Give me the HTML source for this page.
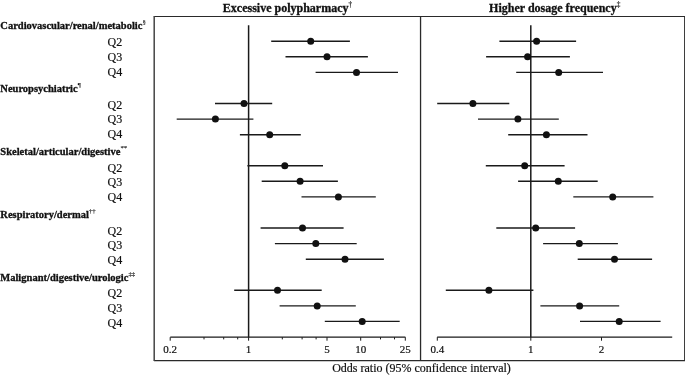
<!DOCTYPE html>
<html><head><meta charset="utf-8"><style>
html,body{margin:0;padding:0;background:#fff;width:685px;height:375px;overflow:hidden;position:relative;font-family:"Liberation Serif",serif}
</style></head><body>
<div id="wrap" style="position:absolute;left:0;top:0;width:685px;height:375px;will-change:transform">
<svg width="685" height="375" viewBox="0 0 685 375" style="position:absolute;left:0;top:0">
<rect width="685" height="375" fill="#fff"/><g>
<line x1="153.9" y1="16.5" x2="685" y2="16.5" stroke="#2a2a2a" stroke-width="1.15"/>
<line x1="153.9" y1="360.7" x2="685" y2="360.7" stroke="#2a2a2a" stroke-width="1.2"/>
<line x1="154.2" y1="16" x2="154.2" y2="361" stroke="#444" stroke-width="1.5"/>
<line x1="684.7" y1="16" x2="684.7" y2="361" stroke="#2a2a2a" stroke-width="1.2"/>
<line x1="420.55" y1="16" x2="420.55" y2="361" stroke="#2a2a2a" stroke-width="1.3"/>
<text x="287.5" y="11.5" text-anchor="middle" font-family="Liberation Serif" font-weight="bold" font-size="12" fill="#111" stroke="#111" stroke-width="0.3">Excessive polypharmacy<tspan font-size="7.2" font-weight="normal" stroke-width="0.15" dy="-4.9">†</tspan></text>
<text x="554.7" y="11.5" text-anchor="middle" font-family="Liberation Serif" font-weight="bold" font-size="12" fill="#111" stroke="#111" stroke-width="0.3">Higher dosage frequency<tspan font-size="7.2" font-weight="normal" stroke-width="0.15" dy="-4.9">‡</tspan></text>
<text x="0.3" y="29.3" font-family="Liberation Serif" font-weight="bold" font-size="10.5" fill="#111" stroke="#111" stroke-width="0.3">Cardiovascular/renal/metabolic<tspan font-size="6.8" font-weight="normal" stroke-width="0.1" dy="-5.2">§</tspan></text>
<text x="122.2" y="45.6" text-anchor="end" font-family="Liberation Serif" font-size="12" fill="#111" stroke="#111" stroke-width="0.2">Q2</text>
<text x="122.2" y="60.5" text-anchor="end" font-family="Liberation Serif" font-size="12" fill="#111" stroke="#111" stroke-width="0.2">Q3</text>
<text x="122.2" y="75.5" text-anchor="end" font-family="Liberation Serif" font-size="12" fill="#111" stroke="#111" stroke-width="0.2">Q4</text>
<text x="0.3" y="92.2" font-family="Liberation Serif" font-weight="bold" font-size="10.5" fill="#111" stroke="#111" stroke-width="0.3">Neuropsychiatric<tspan font-size="6.8" font-weight="normal" stroke-width="0.1" dy="-5.2">¶</tspan></text>
<text x="122.2" y="108.6" text-anchor="end" font-family="Liberation Serif" font-size="12" fill="#111" stroke="#111" stroke-width="0.2">Q2</text>
<text x="122.2" y="123.4" text-anchor="end" font-family="Liberation Serif" font-size="12" fill="#111" stroke="#111" stroke-width="0.2">Q3</text>
<text x="122.2" y="138.4" text-anchor="end" font-family="Liberation Serif" font-size="12" fill="#111" stroke="#111" stroke-width="0.2">Q4</text>
<text x="0.3" y="155.1" font-family="Liberation Serif" font-weight="bold" font-size="10.5" fill="#111" stroke="#111" stroke-width="0.3">Skeletal/articular/digestive<tspan font-size="6.8" font-weight="normal" stroke-width="0.1" dy="-5.2">**</tspan></text>
<text x="122.2" y="171.5" text-anchor="end" font-family="Liberation Serif" font-size="12" fill="#111" stroke="#111" stroke-width="0.2">Q2</text>
<text x="122.2" y="186.4" text-anchor="end" font-family="Liberation Serif" font-size="12" fill="#111" stroke="#111" stroke-width="0.2">Q3</text>
<text x="122.2" y="201.4" text-anchor="end" font-family="Liberation Serif" font-size="12" fill="#111" stroke="#111" stroke-width="0.2">Q4</text>
<text x="0.3" y="218.0" font-family="Liberation Serif" font-weight="bold" font-size="10.5" fill="#111" stroke="#111" stroke-width="0.3">Respiratory/dermal<tspan font-size="6.8" font-weight="normal" stroke-width="0.1" dy="-5.2">††</tspan></text>
<text x="122.2" y="234.5" text-anchor="end" font-family="Liberation Serif" font-size="12" fill="#111" stroke="#111" stroke-width="0.2">Q2</text>
<text x="122.2" y="249.3" text-anchor="end" font-family="Liberation Serif" font-size="12" fill="#111" stroke="#111" stroke-width="0.2">Q3</text>
<text x="122.2" y="264.3" text-anchor="end" font-family="Liberation Serif" font-size="12" fill="#111" stroke="#111" stroke-width="0.2">Q4</text>
<text x="0.3" y="280.9" font-family="Liberation Serif" font-weight="bold" font-size="10.5" fill="#111" stroke="#111" stroke-width="0.3">Malignant/digestive/urologic<tspan font-size="6.8" font-weight="normal" stroke-width="0.1" dy="-5.2">‡‡</tspan></text>
<text x="122.2" y="297.4" text-anchor="end" font-family="Liberation Serif" font-size="12" fill="#111" stroke="#111" stroke-width="0.2">Q2</text>
<text x="122.2" y="312.2" text-anchor="end" font-family="Liberation Serif" font-size="12" fill="#111" stroke="#111" stroke-width="0.2">Q3</text>
<text x="122.2" y="327.2" text-anchor="end" font-family="Liberation Serif" font-size="12" fill="#111" stroke="#111" stroke-width="0.2">Q4</text>
<line x1="248.6" y1="25.3" x2="248.6" y2="337.2" stroke="#1a1a1a" stroke-width="1.5"/>
<line x1="530.8" y1="25.3" x2="530.8" y2="337.2" stroke="#1a1a1a" stroke-width="1.5"/>
<line x1="170.3" y1="337.2" x2="405.4" y2="337.2" stroke="#1a1a1a" stroke-width="1.3"/>
<line x1="170.2" y1="337.2" x2="170.2" y2="340.7" stroke="#1a1a1a" stroke-width="1"/>
<line x1="204.0" y1="337.2" x2="204.0" y2="339.4" stroke="#1a1a1a" stroke-width="1"/>
<line x1="223.7" y1="337.2" x2="223.7" y2="339.4" stroke="#1a1a1a" stroke-width="1"/>
<line x1="237.7" y1="337.2" x2="237.7" y2="339.4" stroke="#1a1a1a" stroke-width="1"/>
<line x1="248.6" y1="337.2" x2="248.6" y2="340.7" stroke="#1a1a1a" stroke-width="1"/>
<line x1="282.3" y1="337.2" x2="282.3" y2="339.4" stroke="#1a1a1a" stroke-width="1"/>
<line x1="302.1" y1="337.2" x2="302.1" y2="339.4" stroke="#1a1a1a" stroke-width="1"/>
<line x1="316.1" y1="337.2" x2="316.1" y2="339.4" stroke="#1a1a1a" stroke-width="1"/>
<line x1="327.0" y1="337.2" x2="327.0" y2="340.7" stroke="#1a1a1a" stroke-width="1"/>
<line x1="360.7" y1="337.2" x2="360.7" y2="340.7" stroke="#1a1a1a" stroke-width="1"/>
<line x1="380.5" y1="337.2" x2="380.5" y2="339.4" stroke="#1a1a1a" stroke-width="1"/>
<line x1="394.5" y1="337.2" x2="394.5" y2="339.4" stroke="#1a1a1a" stroke-width="1"/>
<line x1="405.3" y1="337.2" x2="405.3" y2="340.7" stroke="#1a1a1a" stroke-width="1"/>
<line x1="437.2" y1="337.2" x2="672.2" y2="337.2" stroke="#1a1a1a" stroke-width="1.3"/>
<line x1="437.3" y1="337.2" x2="437.3" y2="340.7" stroke="#1a1a1a" stroke-width="1"/>
<line x1="530.8" y1="337.2" x2="530.8" y2="340.7" stroke="#1a1a1a" stroke-width="1"/>
<line x1="601.5" y1="337.2" x2="601.5" y2="340.7" stroke="#1a1a1a" stroke-width="1"/>
<text x="170.2" y="353.1" text-anchor="middle" font-family="Liberation Serif" font-size="11" fill="#111" stroke="#111" stroke-width="0.2">0.2</text>
<text x="248.6" y="353.1" text-anchor="middle" font-family="Liberation Serif" font-size="11" fill="#111" stroke="#111" stroke-width="0.2">1</text>
<text x="327.0" y="353.1" text-anchor="middle" font-family="Liberation Serif" font-size="11" fill="#111" stroke="#111" stroke-width="0.2">5</text>
<text x="360.7" y="353.1" text-anchor="middle" font-family="Liberation Serif" font-size="11" fill="#111" stroke="#111" stroke-width="0.2">10</text>
<text x="405.3" y="353.1" text-anchor="middle" font-family="Liberation Serif" font-size="11" fill="#111" stroke="#111" stroke-width="0.2">25</text>
<text x="437.3" y="353.1" text-anchor="middle" font-family="Liberation Serif" font-size="11" fill="#111" stroke="#111" stroke-width="0.2">0.4</text>
<text x="530.8" y="353.1" text-anchor="middle" font-family="Liberation Serif" font-size="11" fill="#111" stroke="#111" stroke-width="0.2">1</text>
<text x="601.5" y="353.1" text-anchor="middle" font-family="Liberation Serif" font-size="11" fill="#111" stroke="#111" stroke-width="0.2">2</text>
<text x="421.5" y="372.2" text-anchor="middle" font-family="Liberation Serif" font-size="12" fill="#111" stroke="#111" stroke-width="0.2">Odds ratio (95% confidence interval)</text>
<line x1="271.2" y1="41.3" x2="349.9" y2="41.3" stroke="#1a1a1a" stroke-width="1.4"/>
<circle cx="310.7" cy="41.3" r="3.5" fill="#111"/>
<line x1="285.5" y1="56.8" x2="367.9" y2="56.8" stroke="#1a1a1a" stroke-width="1.4"/>
<circle cx="327.0" cy="56.8" r="3.5" fill="#111"/>
<line x1="315.6" y1="72.4" x2="398.0" y2="72.4" stroke="#1a1a1a" stroke-width="1.4"/>
<circle cx="356.5" cy="72.4" r="3.5" fill="#111"/>
<line x1="215.0" y1="103.5" x2="272.2" y2="103.5" stroke="#1a1a1a" stroke-width="1.4"/>
<circle cx="244.0" cy="103.5" r="3.5" fill="#111"/>
<line x1="176.7" y1="119.1" x2="253.4" y2="119.1" stroke="#1a1a1a" stroke-width="1.4"/>
<circle cx="215.4" cy="119.1" r="3.5" fill="#111"/>
<line x1="239.9" y1="134.7" x2="300.8" y2="134.7" stroke="#1a1a1a" stroke-width="1.4"/>
<circle cx="269.7" cy="134.7" r="3.5" fill="#111"/>
<line x1="247.4" y1="165.8" x2="323.0" y2="165.8" stroke="#1a1a1a" stroke-width="1.4"/>
<circle cx="284.8" cy="165.8" r="3.5" fill="#111"/>
<line x1="261.7" y1="181.3" x2="337.9" y2="181.3" stroke="#1a1a1a" stroke-width="1.4"/>
<circle cx="300.1" cy="181.3" r="3.5" fill="#111"/>
<line x1="301.5" y1="196.9" x2="375.8" y2="196.9" stroke="#1a1a1a" stroke-width="1.4"/>
<circle cx="338.4" cy="196.9" r="3.5" fill="#111"/>
<line x1="260.6" y1="228.0" x2="343.6" y2="228.0" stroke="#1a1a1a" stroke-width="1.4"/>
<circle cx="302.5" cy="228.0" r="3.5" fill="#111"/>
<line x1="274.9" y1="243.6" x2="356.7" y2="243.6" stroke="#1a1a1a" stroke-width="1.4"/>
<circle cx="315.8" cy="243.6" r="3.5" fill="#111"/>
<line x1="305.8" y1="259.2" x2="383.9" y2="259.2" stroke="#1a1a1a" stroke-width="1.4"/>
<circle cx="345.0" cy="259.2" r="3.5" fill="#111"/>
<line x1="234.2" y1="290.3" x2="321.7" y2="290.3" stroke="#1a1a1a" stroke-width="1.4"/>
<circle cx="277.5" cy="290.3" r="3.5" fill="#111"/>
<line x1="279.6" y1="305.9" x2="355.8" y2="305.9" stroke="#1a1a1a" stroke-width="1.4"/>
<circle cx="317.2" cy="305.9" r="3.5" fill="#111"/>
<line x1="324.8" y1="321.4" x2="399.7" y2="321.4" stroke="#1a1a1a" stroke-width="1.4"/>
<circle cx="362.2" cy="321.4" r="3.5" fill="#111"/>
<line x1="499.4" y1="41.3" x2="576.1" y2="41.3" stroke="#1a1a1a" stroke-width="1.4"/>
<circle cx="536.6" cy="41.3" r="3.5" fill="#111"/>
<line x1="486.1" y1="56.8" x2="569.9" y2="56.8" stroke="#1a1a1a" stroke-width="1.4"/>
<circle cx="527.6" cy="56.8" r="3.5" fill="#111"/>
<line x1="516.2" y1="72.4" x2="603.0" y2="72.4" stroke="#1a1a1a" stroke-width="1.4"/>
<circle cx="558.7" cy="72.4" r="3.5" fill="#111"/>
<line x1="437.2" y1="103.5" x2="509.3" y2="103.5" stroke="#1a1a1a" stroke-width="1.4"/>
<circle cx="472.9" cy="103.5" r="3.5" fill="#111"/>
<line x1="478.0" y1="119.1" x2="558.8" y2="119.1" stroke="#1a1a1a" stroke-width="1.4"/>
<circle cx="517.9" cy="119.1" r="3.5" fill="#111"/>
<line x1="508.2" y1="134.7" x2="587.5" y2="134.7" stroke="#1a1a1a" stroke-width="1.4"/>
<circle cx="546.4" cy="134.7" r="3.5" fill="#111"/>
<line x1="485.8" y1="165.8" x2="564.6" y2="165.8" stroke="#1a1a1a" stroke-width="1.4"/>
<circle cx="524.7" cy="165.8" r="3.5" fill="#111"/>
<line x1="518.1" y1="181.3" x2="597.7" y2="181.3" stroke="#1a1a1a" stroke-width="1.4"/>
<circle cx="558.3" cy="181.3" r="3.5" fill="#111"/>
<line x1="573.3" y1="196.9" x2="653.4" y2="196.9" stroke="#1a1a1a" stroke-width="1.4"/>
<circle cx="612.7" cy="196.9" r="3.5" fill="#111"/>
<line x1="496.3" y1="228.0" x2="575.1" y2="228.0" stroke="#1a1a1a" stroke-width="1.4"/>
<circle cx="535.7" cy="228.0" r="3.5" fill="#111"/>
<line x1="543.1" y1="243.6" x2="617.9" y2="243.6" stroke="#1a1a1a" stroke-width="1.4"/>
<circle cx="579.3" cy="243.6" r="3.5" fill="#111"/>
<line x1="577.7" y1="259.2" x2="652.1" y2="259.2" stroke="#1a1a1a" stroke-width="1.4"/>
<circle cx="614.5" cy="259.2" r="3.5" fill="#111"/>
<line x1="445.8" y1="290.3" x2="533.4" y2="290.3" stroke="#1a1a1a" stroke-width="1.4"/>
<circle cx="488.9" cy="290.3" r="3.5" fill="#111"/>
<line x1="540.4" y1="305.9" x2="619.2" y2="305.9" stroke="#1a1a1a" stroke-width="1.4"/>
<circle cx="579.6" cy="305.9" r="3.5" fill="#111"/>
<line x1="580.0" y1="321.4" x2="660.6" y2="321.4" stroke="#1a1a1a" stroke-width="1.4"/>
<circle cx="619.2" cy="321.4" r="3.5" fill="#111"/>
</g></svg>
</div>
</body></html>
